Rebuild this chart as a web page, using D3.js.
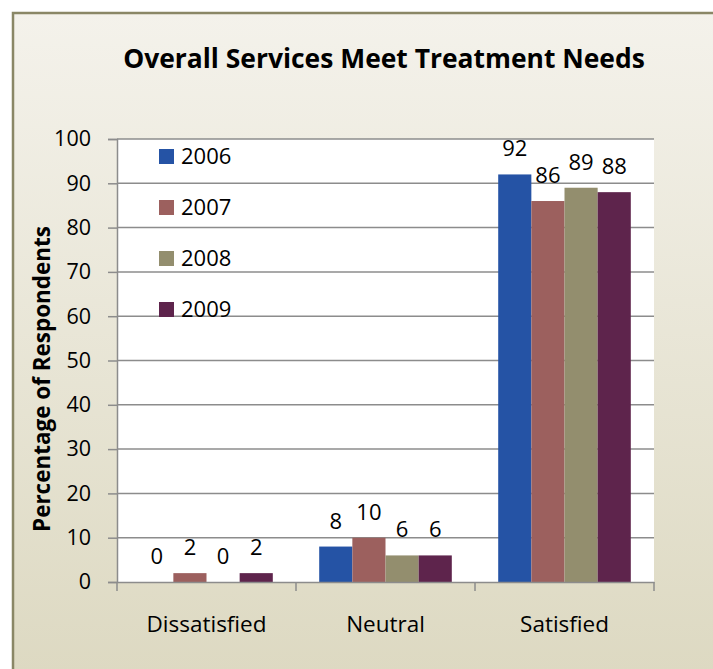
<!DOCTYPE html>
<html><head><meta charset="utf-8">
<script src="https://cdn.jsdelivr.net/npm/d3@7"></script>
<style>html,body{margin:0;padding:0;background:#fff;}svg{display:block;}</style>
</head><body>
<script>
const categories = ["Dissatisfied", "Neutral", "Satisfied"];
const seriesNames = ["2006", "2007", "2008", "2009"];
const values2006 = [0, 8, 92];
const values2007 = [2, 10, 86];
const values2008 = [0, 6, 89];
const values2009 = [2, 6, 88];
const yTicks = [0, 10, 20, 30, 40, 50, 60, 70, 80, 90, 100];
const colors = ["#2553a5", "#9c605e", "#938e6e", "#5e244c"];
const title = "Overall Services Meet Treatment Needs";
const yTitle = "Percentage of Respondents";

const series = [values2006, values2007, values2008, values2009];
const W = 713, H = 669;
const FONT = "'Open Sans', sans-serif";
const svg = d3.select("body").append("svg").attr("width", W).attr("height", H);
const defs = svg.append("defs");
const lg = defs.append("linearGradient").attr("id", "bg").attr("x1", 0).attr("y1", 0).attr("x2", 0).attr("y2", 1);
lg.append("stop").attr("offset", "0%").attr("stop-color", "#f4f2eb");
lg.append("stop").attr("offset", "100%").attr("stop-color", "#dcd8c0");

function fit(sel, target) {
  const node = sel.node();
  const fs = parseFloat(sel.attr("font-size"));
  const w = node.getComputedTextLength();
  if (w > 0) sel.attr("font-size", fs * target / w);
  return sel;
}

svg.append("rect").attr("x", 0).attr("y", 0).attr("width", W).attr("height", H).attr("fill", "#fff");
svg.append("rect").attr("x", 13).attr("y", 13).attr("width", W + 20).attr("height", H + 20)
  .attr("fill", "url(#bg)").attr("stroke", "#8a8766").attr("stroke-width", 2.5);

const plot = {left: 117, right: 654, top: 139, bottom: 582};
const x0 = d3.scaleBand().domain(categories).range([plot.left, plot.right]).paddingInner(0).paddingOuter(0);
const x1 = d3.scaleBand().domain(seriesNames).range([0, x0.bandwidth()]).paddingInner(0).paddingOuter(0.7);
const y = d3.scaleLinear().domain([0, 100]).range([plot.bottom, plot.top]);

svg.append("rect").attr("x", plot.left).attr("y", plot.top).attr("width", plot.right - plot.left)
  .attr("height", plot.bottom - plot.top).attr("fill", "#fff");

// gridlines
svg.append("g").selectAll("line").data(yTicks.filter(d => d > 0)).join("line")
  .attr("x1", plot.left).attr("x2", plot.right).attr("y1", d => y(d)).attr("y2", d => y(d))
  .attr("stroke", "#8c8c8c").attr("stroke-width", 1.5);

// y axis
const yAxis = svg.append("g").attr("transform", `translate(${plot.left},0)`)
  .call(d3.axisLeft(y).tickValues(yTicks).tickSize(9).tickPadding(17));
yAxis.select(".domain").attr("stroke", "#8c8c8c").attr("stroke-width", 1.5);
yAxis.selectAll(".tick line").attr("stroke", "#8c8c8c").attr("stroke-width", 1.5);
yAxis.selectAll(".tick text").attr("font-family", FONT).attr("font-size", 21.5).attr("fill", "#000");

// bars
const groups = svg.append("g").selectAll("g").data(categories).join("g")
  .attr("transform", d => `translate(${x0(d)},0)`);
groups.selectAll("rect").data((c, ci) => seriesNames.map((s, si) => ({s, si, v: series[si][ci]}))).join("rect")
  .attr("x", d => x1(d.s)).attr("width", x1.bandwidth())
  .attr("y", d => y(d.v)).attr("height", d => y(0) - y(d.v))
  .attr("fill", d => colors[d.si]);
groups.selectAll("text").data((c, ci) => seriesNames.map((s, si) => ({s, si, v: series[si][ci]}))).join("text")
  .attr("x", d => x1(d.s) + x1.bandwidth() / 2).attr("y", d => y(d.v) - 18)
  .attr("text-anchor", "middle").attr("font-family", FONT).attr("font-size", 22).attr("fill", "#000")
  .text(d => d.v);

// x axis
const xAxis = svg.append("g").attr("transform", `translate(0,${plot.bottom})`)
  .call(d3.axisBottom(x0).tickSize(0).tickPadding(34));
xAxis.select(".domain").attr("stroke", "#8c8c8c").attr("stroke-width", 1.5);
xAxis.selectAll(".tick text").attr("font-family", FONT).attr("font-size", 21).attr("fill", "#000");
fit(xAxis.select(".tick text"), 120);
xAxis.selectAll(".tick text").attr("font-size", xAxis.select(".tick text").attr("font-size"));
const bounds = [plot.left].concat(categories.map(c => x0(c) + x0.bandwidth()));
xAxis.append("g").selectAll("line").data(bounds).join("line")
  .attr("x1", d => d).attr("x2", d => d).attr("y1", 0).attr("y2", 9)
  .attr("stroke", "#8c8c8c").attr("stroke-width", 1.5);

// title
fit(svg.append("text").attr("x", 384).attr("y", 68).attr("text-anchor", "middle")
  .attr("font-family", FONT).attr("font-weight", "bold").attr("font-size", 25).attr("fill", "#000")
  .text(title), 522);

// y title
fit(svg.append("text").attr("transform", `translate(50,${379}) rotate(-90)`).attr("text-anchor", "middle")
  .attr("font-family", FONT).attr("font-weight", "bold").attr("font-size", 20).attr("fill", "#000")
  .text(yTitle), 306);

// legend
const leg = svg.append("g").selectAll("g").data(seriesNames).join("g")
  .attr("transform", (d, i) => `translate(159,${156 + i * 51})`);
leg.append("rect").attr("x", 0).attr("y", -7).attr("width", 15).attr("height", 15).attr("fill", (d, i) => colors[i]);
leg.append("text").attr("x", 22).attr("y", 8).attr("font-family", FONT).attr("font-size", 22).attr("fill", "#000").text(d => d);
</script>
</body></html>
